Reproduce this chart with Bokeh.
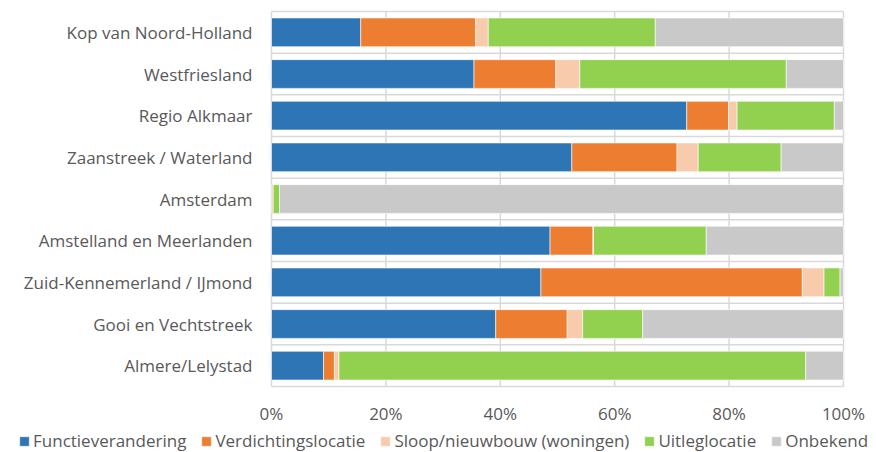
from bokeh.plotting import figure
from bokeh.models import ColumnDataSource, Legend, LegendItem, Range1d
from bokeh.core.properties import value
from bokeh.embed import file_html
from bokeh.resources import INLINE

# Regions, top to bottom
regions = [
    "Kop van Noord-Holland",
    "Westfriesland",
    "Regio Alkmaar",
    "Zaanstreek / Waterland",
    "Amsterdam",
    "Amstelland en Meerlanden",
    "Zuid-Kennemerland / IJmond",
    "Gooi en Vechtstreek",
    "Almere/Lelystad",
]

# Share per location type (%)
functieverandering = [15.6, 35.4, 72.6, 52.5, 0.1, 48.7, 47.1, 39.2, 9.1]
verdichtingslocatie = [20.1, 14.3, 7.3, 18.4, 0.2, 7.5, 45.7, 12.5, 1.9]
sloop_nieuwbouw = [2.2, 4.2, 1.5, 3.7, 0.0, 0.1, 3.8, 2.7, 0.8]
uitleglocatie = [29.2, 36.1, 17.0, 14.5, 1.1, 19.7, 2.8, 10.5, 81.6]
onbekend = [32.9, 10.0, 1.6, 10.9, 98.6, 24.0, 0.6, 35.1, 6.6]

series_names = [
    "Functieverandering",
    "Verdichtingslocatie",
    "Sloop/nieuwbouw (woningen)",
    "Uitleglocatie",
    "Onbekend",
]
series_values = [functieverandering, verdichtingslocatie, sloop_nieuwbouw, uitleglocatie, onbekend]
colors = ["#2e75b6", "#ed7d31", "#f8cbad", "#92d050", "#c9c9c9"]

x_ticks = [0, 0.2, 0.4, 0.6, 0.8, 1.0]
x_tick_labels = ["%d%%" % round(t * 100) for t in x_ticks]

FONT = "Open Sans"
TEXT = "#595959"
GRID = "#d9d9d9"

# canvas geometry (pixels)
W, H = 876, 452
PLOT_L, PLOT_R, PLOT_T, PLOT_B = 271, 843, 11, 386

n = len(regions)
px_per_x = (PLOT_R - PLOT_L) / 1.0
px_per_row = (PLOT_B - PLOT_T) / n

def x_at(px):
    return (px - PLOT_L) / px_per_x

def y_at(py):
    return (PLOT_B - py) / px_per_row

p = figure(
    width=W, height=H,
    output_backend="svg", toolbar_location=None,
    x_range=Range1d(x_at(0), x_at(W)), y_range=Range1d(y_at(H), y_at(0)),
    min_border=0, min_border_left=0, min_border_right=0,
    min_border_top=0, min_border_bottom=0,
    x_axis_type=None, y_axis_type=None,
    outline_line_color=None,
)
p.xgrid.visible = False
p.ygrid.visible = False

# gridlines inside the plot area
p.segment(x0=x_ticks, x1=x_ticks, y0=[0] * len(x_ticks), y1=[n] * len(x_ticks),
          line_color=GRID, line_width=1.5)
bounds = list(range(n + 1))
p.segment(x0=[0] * len(bounds), x1=[1] * len(bounds), y0=bounds, y1=bounds,
          line_color=GRID, line_width=1.5)

# stacked bars
ypos = [n - 0.5 - i for i in range(n)]
keys = ["s%d" % k for k in range(len(series_names))]
data = {"y": ypos}
for key, vals in zip(keys, series_values):
    data[key] = [v / 100.0 for v in vals]
source = ColumnDataSource(data)

renderers = p.hbar_stack(
    keys, y="y", height=0.69, source=source,
    color=colors, line_color="white", line_width=0.6,
)

# category labels
p.text(x=[x_at(PLOT_L - 19)] * n, y=ypos, text=regions,
       text_align="right", text_baseline="middle",
       text_font=value(FONT), text_font_size="17px", text_color=TEXT)

# value tick labels
p.text(x=x_ticks, y=[y_at(413)] * len(x_ticks), text=x_tick_labels,
       text_align="center", text_baseline="middle",
       text_font=value(FONT), text_font_size="17px", text_color=TEXT)

legend = Legend(
    items=[LegendItem(label=name, renderers=[r]) for name, r in zip(series_names, renderers)],
    orientation="horizontal",
    location=(18, 0),
    glyph_width=12, glyph_height=12, label_height=14,
    label_standoff=3, spacing=14,
    padding=0, margin=0,
    label_text_font=FONT, label_text_font_size="17px", label_text_color=TEXT,
    border_line_color=None, background_fill_alpha=0,
)
p.add_layout(legend, "center")

open("out.html", "w").write(file_html(p, INLINE))
